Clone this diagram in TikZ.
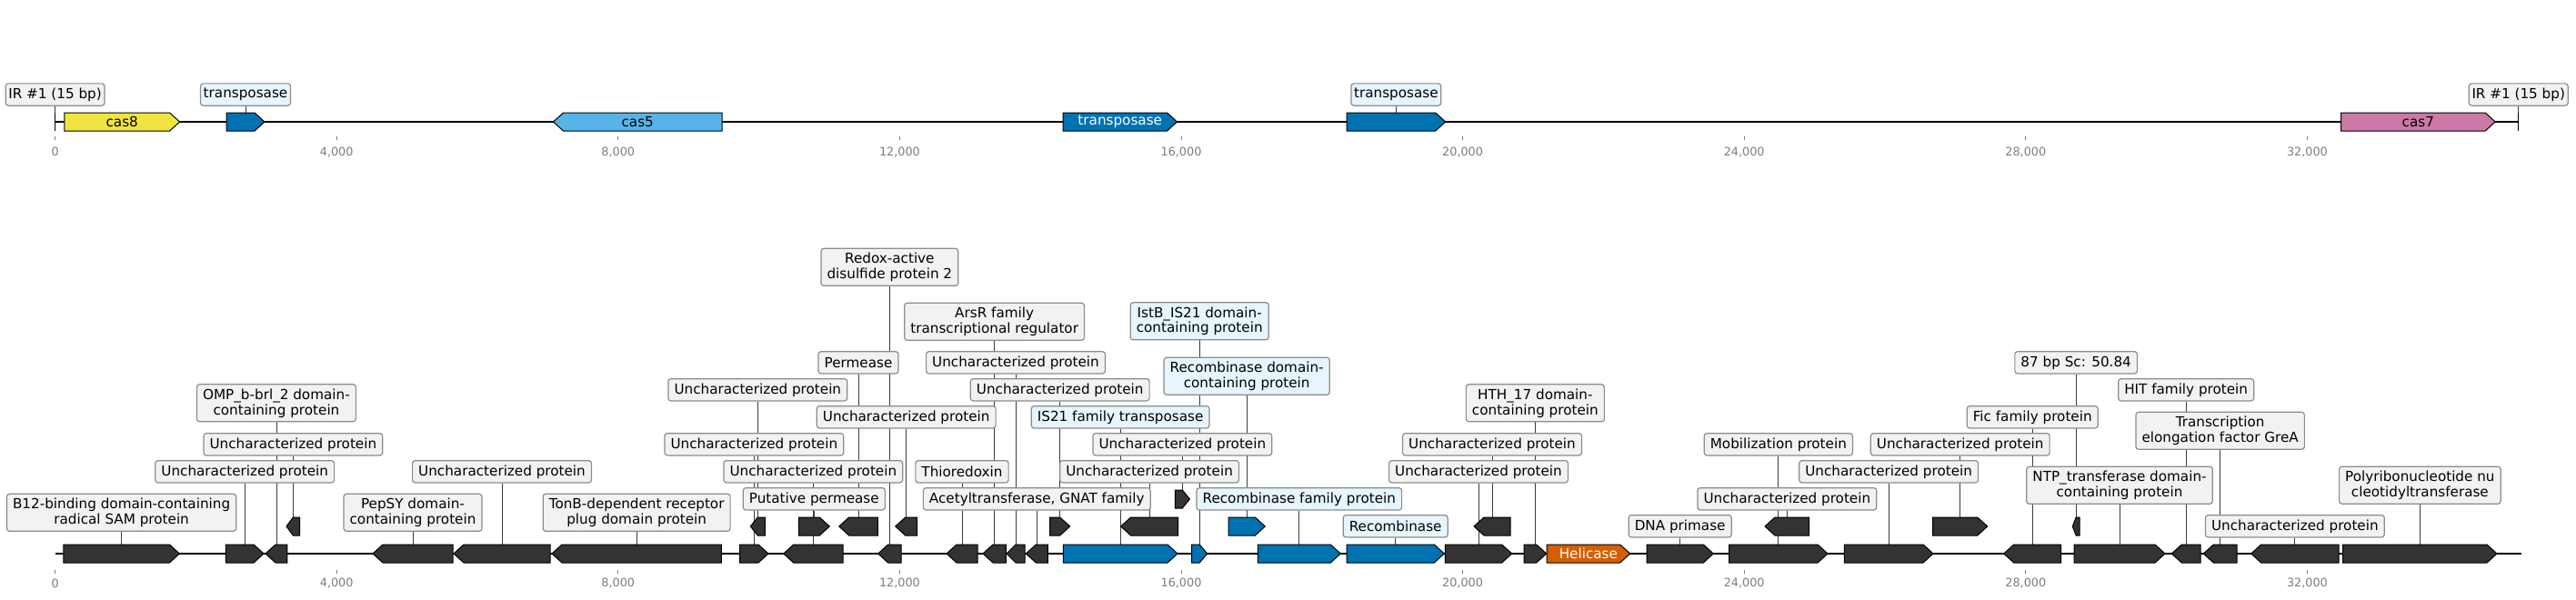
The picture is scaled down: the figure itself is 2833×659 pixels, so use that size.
\documentclass[tikz,border=0pt]{standalone}
\usepackage{fontspec}
\setmainfont{DejaVu Sans}
\usetikzlibrary{backgrounds}
\definecolor{gdark}{RGB}{51,51,51}
\definecolor{tblue}{RGB}{0,114,178}
\definecolor{cas5c}{RGB}{86,180,233}
\definecolor{cas7c}{RGB}{204,121,167}
\definecolor{cas8c}{RGB}{240,228,66}
\definecolor{helic}{RGB}{213,94,0}
\definecolor{labgray}{RGB}{242,242,242}
\definecolor{labblue}{RGB}{230,245,254}
\definecolor{labborder}{RGB}{140,140,140}
\definecolor{connc}{RGB}{60,60,60}
\definecolor{tickc}{RGB}{125,125,125}
\newcommand\lf{\fontsize{15.2}{17}\selectfont}
\newcommand\tkf{\fontsize{12.8}{14}\selectfont}
\newcommand\fg[5]{%
  \pgfmathsetmacro\ghl{min(11,(#3-#2)/2)}%
  \draw[gene,fill=#5] (#2,#4-10) -- ({#3-\ghl},#4-10) -- (#3,#4) -- ({#3-\ghl},#4+10) -- (#2,#4+10) -- cycle;
  \coordinate (#1) at ({(#2+#3)/2},#4-10);}
\newcommand\rg[5]{%
  \pgfmathsetmacro\ghl{min(11,(#3-#2)/2)}%
  \draw[gene,fill=#5] (#3,#4-10) -- ({#2+\ghl},#4-10) -- (#2,#4) -- ({#2+\ghl},#4+10) -- (#3,#4+10) -- cycle;
  \coordinate (#1) at ({(#2+#3)/2},#4-10);}
\begin{document}
\begin{tikzpicture}[x=1pt,y=-1pt,
  gene/.style={draw=black,line width=1pt},
  track/.style={draw=black,line width=2.3pt},
  conn/.style={draw=connc,line width=0.9pt},
  lab/.style={draw=labborder,fill=labgray,line width=1.2pt,rounded corners=3pt,font=\lf,
    inner xsep=6.6pt,inner ysep=0pt,minimum height=24.3pt,align=center},
  labb/.style={lab,fill=labblue},
  toplab/.style={inner xsep=3.2pt},
  two/.style={minimum height=41pt},
  gtxt/.style={font=\lf,inner sep=0pt},
  tickline/.style={draw=tickc,line width=0.8pt},
  ticklab/.style={font=\tkf,text=tickc,inner sep=0pt}]
\useasboundingbox (0,0) rectangle (2833,659);

% ---------- top track ----------
\coordinate (tS) at (60.6,134);
\coordinate (tE) at (2769.7,134);
\coordinate (irlA) at (60.6,124);
\coordinate (irlB) at (60.6,144);
\coordinate (irrA) at (2769.7,124);
\coordinate (irrB) at (2769.7,144);
\fg{tg1}{70.9}{197.6}{134}{cas8c}
\fg{tg2}{249}{291}{134}{tblue}
\rg{tg3}{608.5}{794}{134}{cas5c}
\fg{tg4}{1169}{1294.5}{134}{tblue}
\fg{tg5}{1481}{1589.7}{134}{tblue}
\fg{tg6}{2574.5}{2744.2}{134}{cas7c}
\node[gtxt] (tx1) at (tg1 |- 0,134) {cas8};
\node[gtxt] (tx3) at (tg3 |- 0,134) {cas5};
\node[gtxt,text=white] (tx4) at (tg4 |- 0,134) {transposase};
\node[gtxt] (tx6) at (tg6 |- 0,134) {cas7};
\node[lab,toplab] (irl) at (irlA |- 0,104) {IR \#1 (15 bp)};
\node[lab,toplab] (irr) at (irrA |- 0,104) {IR \#1 (15 bp)};
\node[labb,toplab] (Lt2) at (tg2 |- 0,104) {transposase};
\node[labb,toplab] (Lt5) at (tg5 |- 0,104) {transposase};

\foreach \k in {0,...,8}{
  \pgfmathsetmacro\tx{60.6+309.6*\k}
  \pgfmathtruncatemacro\kk{4*\k}
  \draw[tickline] (\tx,150) -- (\tx,154);
  \node[ticklab] (tt\k) at (\tx,167) {\ifnum\k=0 0\else\kk,000\fi};
  \draw[tickline] (\tx,626.7) -- (\tx,630.5);
  \node[ticklab] (bt\k) at (\tx,641.7) {\ifnum\k=0 0\else\kk,000\fi};
}

% ---------- bottom track ----------
\coordinate (bS) at (61,609);
\coordinate (bE) at (2772.7,609);
\fg{g1}{69.8}{197.4}{609}{gdark}
\fg{g2}{248.4}{290}{609}{gdark}
\rg{g3}{292}{315.9}{609}{gdark}
\rg{g4}{315}{329.7}{579}{gdark}
\rg{g5}{410}{498}{609}{gdark}
\rg{g6}{499}{605}{609}{gdark}
\rg{g7}{607}{793.3}{609}{gdark}
\fg{g8}{813.7}{845}{609}{gdark}
\rg{g9}{825.3}{841.3}{579}{gdark}
\rg{g10}{861.7}{927}{609}{gdark}
\fg{g11}{878.3}{912.3}{579}{gdark}
\rg{g12}{922.7}{965.3}{579}{gdark}
\rg{g13}{965.7}{991}{609}{gdark}
\rg{g14}{984.7}{1008.7}{579}{gdark}
\rg{g15}{1041}{1075}{609}{gdark}
\rg{g16}{1081}{1106.3}{609}{gdark}
\rg{g17}{1107}{1127}{609}{gdark}
\rg{g18}{1128.3}{1152.3}{609}{gdark}
\fg{g19}{1154.7}{1176.7}{579}{gdark}
\fg{g20}{1169.3}{1295}{609}{tblue}
\rg{g21}{1232.6}{1295.5}{579}{gdark}
\fg{g22}{1292.3}{1308.4}{549}{gdark}
\fg{g23}{1310.7}{1327.7}{609}{tblue}
\fg{g24}{1351}{1391.3}{579}{tblue}
\fg{g25}{1383.3}{1474.3}{609}{tblue}
\fg{g26}{1481}{1588.3}{609}{tblue}
\fg{g27}{1589.3}{1662.7}{609}{gdark}
\rg{g28}{1621}{1661}{579}{gdark}
\fg{g29}{1676}{1700.7}{609}{gdark}
\fg{g30}{1701}{1792.7}{609}{helic}
\fg{g31}{1811}{1884.3}{609}{gdark}
\fg{g32}{1901.7}{2010}{609}{gdark}
\rg{g33}{1941}{1989.7}{579}{gdark}
\fg{g34}{2028.3}{2126}{609}{gdark}
\fg{g35}{2125.7}{2185.7}{579}{gdark}
\rg{g36}{2203.7}{2266.7}{609}{gdark}
\rg{g37}{2279.3}{2287}{579}{gdark}
\fg{g38}{2281}{2381}{609}{gdark}
\rg{g39}{2388.3}{2420}{609}{gdark}
\rg{g40}{2423.3}{2460}{609}{gdark}
\rg{g41}{2475.7}{2572}{609}{gdark}
\fg{g42}{2576.7}{2746}{609}{gdark}
\node[gtxt,text=white] (tx30) at (g30 |- 0,609) {Helicase};

\node[lab,two] (L1) at (g1 |- 0,563.8) {B12-binding domain-containing\\radical SAM protein};
\node[lab] (L2) at (g2 |- 0,518.8) {Uncharacterized protein};
\node[lab,two] (L3) at (g3 |- 0,443.3) {OMP\_b-brl\_2 domain-\\containing protein};
\node[lab] (L4) at (g4 |- 0,488.8) {Uncharacterized protein};
\node[lab,two] (L5) at (g5 |- 0,563.8) {PepSY domain-\\containing protein};
\node[lab] (L6) at (g6 |- 0,518.8) {Uncharacterized protein};
\node[lab,two] (L7) at (g7 |- 0,563.8) {TonB-dependent receptor\\plug domain protein};
\node[lab] (L8) at (g8 |- 0,488.8) {Uncharacterized protein};
\node[lab] (L9) at (g9 |- 0,428.8) {Uncharacterized protein};
\node[lab] (L10) at (g10 |- 0,518.8) {Uncharacterized protein};
\node[lab] (L11) at (g11 |- 0,548.8) {Putative permease};
\node[lab] (L12) at (g12 |- 0,398.8) {Permease};
\node[lab,two] (L13) at (g13 |- 0,293.8) {Redox-active\\disulfide protein 2};
\node[lab] (L14) at (g14 |- 0,458.8) {Uncharacterized protein};
\node[lab] (L15) at (g15 |- 0,518.8) {Thioredoxin};
\node[lab,two] (L16) at (g16 |- 0,353.8) {ArsR family\\transcriptional regulator};
\node[lab] (L17) at (g17 |- 0,398.8) {Uncharacterized protein};
\node[lab] (L18) at (g18 |- 0,548.8) {Acetyltransferase, GNAT family};
\node[lab] (L19) at (g19 |- 0,428.8) {Uncharacterized protein};
\node[labb] (L20) at (g20 |- 0,458.8) {IS21 family transposase};
\node[lab] (L21) at (g21 |- 0,518.8) {Uncharacterized protein};
\node[lab] (L22) at (g22 |- 0,488.8) {Uncharacterized protein};
\node[labb,two] (L23) at (g23 |- 0,353.3) {IstB\_IS21 domain-\\containing protein};
\node[labb,two] (L24) at (g24 |- 0,413.8) {Recombinase domain-\\containing protein};
\node[labb] (L25) at (g25 |- 0,548.8) {Recombinase family protein};
\node[labb] (L26) at (g26 |- 0,578.8) {Recombinase};
\node[lab] (L27) at (g27 |- 0,518.8) {Uncharacterized protein};
\node[lab] (L28) at (g28 |- 0,488.8) {Uncharacterized protein};
\node[lab,two] (L29) at (g29 |- 0,443.3) {HTH\_17 domain-\\containing protein};
\node[lab] (L31) at (g31 |- 0,578.8) {DNA primase};
\node[lab] (L32) at (g32 |- 0,488.8) {Mobilization protein};
\node[lab] (L33) at (g33 |- 0,548.8) {Uncharacterized protein};
\node[lab] (L34) at (g34 |- 0,518.8) {Uncharacterized protein};
\node[lab] (L35) at (g35 |- 0,488.8) {Uncharacterized protein};
\node[lab] (L36) at (g36 |- 0,458.8) {Fic family protein};
\node[lab] (L37) at (g37 |- 0,398.8) {87 bp Sc: 50.84};
\node[lab,two] (L38) at (g38 |- 0,533.8) {NTP\_transferase domain-\\containing protein};
\node[lab] (L39) at (g39 |- 0,428.8) {HIT family protein};
\node[lab,two] (L40) at (g40 |- 0,473.8) {Transcription\\elongation factor GreA};
\node[lab] (L41) at (g41 |- 0,578.8) {Uncharacterized protein};
\node[lab,two] (L42) at (g42 |- 0,533.8) {Polyribonucleotide nu\\cleotidyltransferase};

\begin{pgfonlayer}{background}
  \draw[track] (tS) -- (tE);
  \draw[track] (bS) -- (bE);
  \draw[black,line width=1pt] (irlA) -- (irlB);
  \draw[black,line width=1pt] (irrA) -- (irrB);
  \draw[conn] (irl.south) -- (irlA);
  \draw[conn] (irr.south) -- (irrA);
  \draw[conn] (Lt2.south) -- (tg2);
  \draw[conn] (Lt5.south) -- (tg5);
  \foreach \i in {1,...,29,31,32,...,42}{\draw[conn] (L\i.south) -- (g\i);}
\end{pgfonlayer}
\end{tikzpicture}
\end{document}
